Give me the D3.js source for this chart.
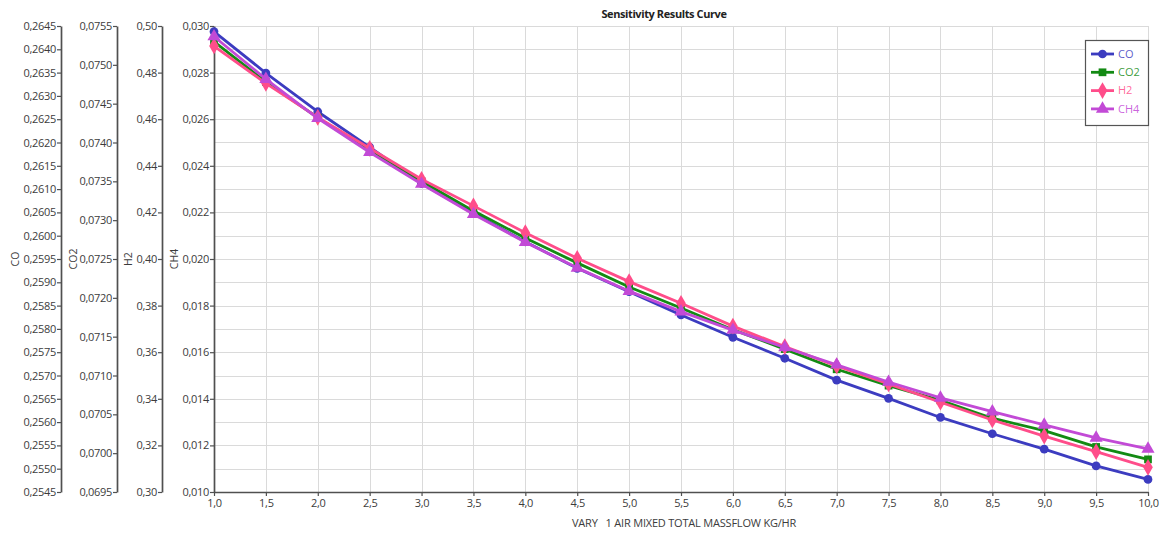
<!DOCTYPE html>
<html>
<head>
<meta charset="utf-8">
<script src="https://cdn.jsdelivr.net/npm/d3@7"></script>
<style>
  body { margin: 0; background: #ffffff; }
  svg { display: block; font-family: "Open Sans", "Noto Sans", sans-serif; }
  .keep-spaces { white-space: pre; }
</style>
</head>
<body>
<svg id="chart" width="1161" height="535"></svg>
<script>
// Sensitivity run: air mixed total massflow (kg/hr) vs. product gas fractions
const massflow = [1.0, 1.5, 2.0, 2.5, 3.0, 3.5, 4.0, 4.5, 5.0, 5.5, 6.0, 6.5, 7.0, 7.5, 8.0, 8.5, 9.0, 9.5, 10.0];

const coValues  = [0.26438, 0.26349, 0.26266, 0.26190, 0.26112, 0.26048, 0.25987, 0.25930, 0.25880, 0.25830,
                   0.25782, 0.25737, 0.25690, 0.25651, 0.25610, 0.25575, 0.25542, 0.25506, 0.25477];
const co2Values = [0.07530, 0.07478, 0.07432, 0.07389, 0.07350, 0.07312, 0.07277, 0.07245, 0.07214, 0.07187,
                   0.07159, 0.07134, 0.07108, 0.07087, 0.07068, 0.07045, 0.07029, 0.07008, 0.06992];
const h2Values  = [0.4914, 0.4754, 0.4608, 0.4475, 0.4342, 0.4228, 0.4113, 0.4003, 0.3903, 0.3810,
                   0.3712, 0.3624, 0.3541, 0.3464, 0.3385, 0.3309, 0.3240, 0.3173, 0.3106];
const ch4Values = [0.02955, 0.02772, 0.02604, 0.02458, 0.02322, 0.02192, 0.02072, 0.01962, 0.01862, 0.01774,
                   0.01695, 0.01620, 0.01546, 0.01472, 0.01404, 0.01345, 0.01288, 0.01232, 0.01185];

const seriesNames = ["CO", "CO2", "H2", "CH4"];

// Axis ranges and tick values for each of the four stacked value axes
const coDomain  = [0.2545, 0.2645];
const co2Domain = [0.0695, 0.0755];
const h2Domain  = [0.30, 0.50];
const ch4Domain = [0.010, 0.030];
const coTicks   = d3.range(21).map(i => 0.2545 + i * 0.0005);
const co2Ticks  = d3.range(13).map(i => 0.0695 + i * 0.0005);
const h2Ticks   = d3.range(11).map(i => 0.30 + i * 0.02);
const ch4Ticks  = d3.range(11).map(i => 0.010 + i * 0.002);
const ch4Grid   = d3.range(21).map(i => 0.010 + i * 0.001);

const chartTitle = "Sensitivity Results Curve";
const xTitle = "VARY   1 AIR MIXED TOTAL MASSFLOW KG/HR";

// ---- layout ----
const svg = d3.select("#chart");
const plot = { left: 214, right: 1148, top: 26, bottom: 492 };
const textColor = "#3c3c3c";
const axisColor = "#505050";

const locale = d3.formatLocale({ decimal: ",", thousands: ".", grouping: [3], currency: ["", ""] });

const x = d3.scaleLinear().domain([1, 10]).range([plot.left, plot.right]);

const axesSpec = [
  { name: "CO",  domain: coDomain,  ticks: coTicks,  fmt: locale.format(".4f"), axisX: 61,  titleX: 15,  values: coValues,  color: "#3c3cc0", symbol: d3.symbolCircle,   size: 60 },
  { name: "CO2", domain: co2Domain, ticks: co2Ticks, fmt: locale.format(".4f"), axisX: 117, titleX: 73,  values: co2Values, color: "#138a13", symbol: d3.symbolSquare,   size: 60 },
  { name: "H2",  domain: h2Domain,  ticks: h2Ticks,  fmt: locale.format(".2f"), axisX: 162, titleX: 128, values: h2Values,  color: "#ff4d8a", symbol: d3.symbolDiamond,  size: 80 },
  { name: "CH4", domain: ch4Domain, ticks: ch4Ticks, fmt: locale.format(".3f"), axisX: 214, titleX: 174, values: ch4Values, color: "#c24ad6", symbol: d3.symbolTriangle, size: 75 }
];
axesSpec.forEach(a => {
  a.scale = d3.scaleLinear().domain(a.domain).range([plot.bottom, plot.top]);
});
const ch4Scale = axesSpec[3].scale;

// ---- grid ----
const grid = svg.append("g").attr("stroke", "#dadada").attr("stroke-width", 1);
grid.selectAll("line.h").data(ch4Grid).join("line")
  .attr("class", "h")
  .attr("x1", plot.left).attr("x2", plot.right)
  .attr("y1", d => Math.round(ch4Scale(d)) + 0.5).attr("y2", d => Math.round(ch4Scale(d)) + 0.5);
grid.selectAll("line.v").data(massflow).join("line")
  .attr("class", "v")
  .attr("y1", plot.top).attr("y2", plot.bottom)
  .attr("x1", d => Math.round(x(d)) + 0.5).attr("x2", d => Math.round(x(d)) + 0.5);

// ---- value axes ----
axesSpec.forEach(a => {
  const g = svg.append("g")
    .attr("transform", `translate(${a.axisX},0)`)
    .call(d3.axisLeft(a.scale).tickValues(a.ticks).tickFormat(a.fmt).tickSize(4).tickSizeOuter(0).tickPadding(1));
  g.select(".domain").attr("stroke", axisColor).attr("stroke-width", 1.7);
  g.selectAll(".tick line").attr("stroke", axisColor).attr("stroke-width", 1.2);
  g.selectAll(".tick text").attr("fill", textColor).attr("font-size", 11)
    .attr("font-family", "\"Open Sans\", sans-serif").attr("letter-spacing", -0.3);

  svg.append("text")
    .attr("transform", `translate(${a.titleX},${(plot.top + plot.bottom) / 2}) rotate(-90)`)
    .attr("text-anchor", "middle")
    .attr("dy", "0.35em")
    .attr("font-size", 10.5)
    .attr("fill", textColor)
    .text(a.name);
});

// ---- x axis ----
const xAxis = svg.append("g")
  .attr("transform", `translate(0,${plot.bottom})`)
  .call(d3.axisBottom(x).tickValues(massflow).tickFormat(locale.format(".1f")).tickSize(4).tickSizeOuter(0).tickPadding(3));
xAxis.select(".domain").attr("stroke", axisColor).attr("stroke-width", 1.7);
xAxis.selectAll(".tick line").attr("stroke", axisColor).attr("stroke-width", 1.2);
xAxis.selectAll(".tick text").attr("fill", textColor).attr("font-size", 11)
  .attr("font-family", "\"Open Sans\", sans-serif").attr("letter-spacing", -0.3);

svg.append("text")
  .attr("class", "keep-spaces")
  .attr("x", 684)
  .attr("y", 527)
  .attr("text-anchor", "middle")
  .attr("font-size", 11)
  .attr("fill", textColor)
  .attr("letter-spacing", -0.2)
  .text(xTitle);

// ---- title ----
svg.append("text")
  .attr("x", 664)
  .attr("y", 18)
  .attr("text-anchor", "middle")
  .attr("font-size", 11)
  .attr("font-weight", "bold")
  .attr("letter-spacing", -0.4)
  .attr("fill", "#222")
  .text(chartTitle);

// ---- series ----
axesSpec.forEach(a => {
  const pts = massflow.map((m, i) => [x(m), a.scale(a.values[i])]);
  svg.append("path")
    .attr("d", d3.line()(pts))
    .attr("fill", "none")
    .attr("stroke", a.color)
    .attr("stroke-width", 2.8)
    .attr("stroke-linejoin", "round");
  svg.append("g").selectAll("path").data(pts).join("path")
    .attr("transform", d => `translate(${d[0]},${d[1]})`)
    .attr("d", d3.symbol(a.symbol, a.size))
    .attr("fill", a.color);
});

// ---- legend ----
const legend = svg.append("g").attr("transform", "translate(1085,40)");
legend.append("rect")
  .attr("x", 0.5).attr("y", 0.5).attr("width", 63).attr("height", 85)
  .attr("fill", "#ffffff").attr("stroke", "#555").attr("stroke-width", 1.2);
axesSpec.forEach((a, i) => {
  const cy = 14 + i * 18.3;
  const item = legend.append("g").attr("transform", `translate(0,${cy})`);
  item.append("line").attr("x1", 6).attr("x2", 29).attr("y1", 0).attr("y2", 0)
    .attr("stroke", a.color).attr("stroke-width", 2.8);
  item.append("path").attr("transform", "translate(17.5,0)")
    .attr("d", d3.symbol(a.symbol, a.size)).attr("fill", a.color);
  item.append("text").attr("x", 33).attr("y", 0).attr("dy", "0.35em")
    .attr("font-size", 11).attr("fill", a.color).attr("fill-opacity", 0.85)
    .text(seriesNames[i]);
});
</script>
</body>
</html>
